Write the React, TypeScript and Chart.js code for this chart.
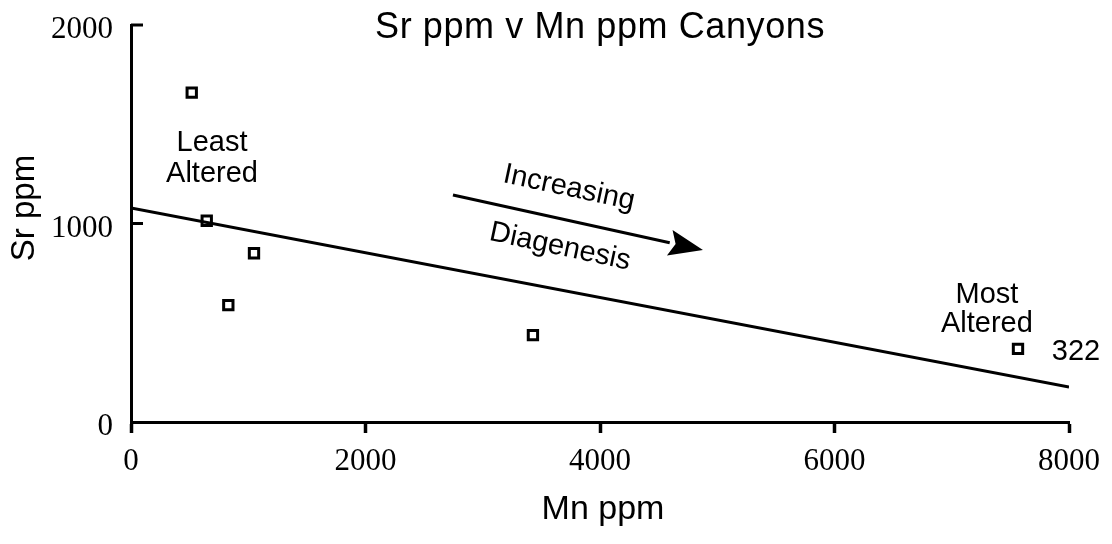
import React, { useEffect, useRef } from "react";
import { Chart, registerables } from "chart.js";

Chart.register(...registerables);

// Samples: Mn (ppm) against Sr (ppm)
const mnPpm = [518, 646, 1049, 830, 3428, 7565];
const srPpm = [1659, 1014, 850, 589, 438, 368];

// Least-squares trend line end points
const trendMn = [0, 8000];
const trendSr = [1078, 176];

// Axis ticks
const xTickValues = [0, 2000, 4000, 6000, 8000];
const yTickValues = [0, 1000, 2000];

// Direction arrow (in data units)
const arrowMn = [2746, 4878];
const arrowSr = [1144, 866];

const SANS = '"Liberation Sans", Arial, Helvetica, sans-serif';
const SERIF = '"Liberation Serif", "Times New Roman", serif';

type Note = { text: string; mn: number; sr: number; angle?: number; align?: CanvasTextAlign };

const notes: Note[] = [
  { text: "Least", mn: 691, sr: 1406 },
  { text: "Altered", mn: 691, sr: 1249 },
  { text: "Most", mn: 7300, sr: 640 },
  { text: "Altered", mn: 7300, sr: 494 },
  { text: "322", mn: 8060, sr: 353 },
  { text: "Increasing", mn: 3736, sr: 1179, angle: 12 },
  { text: "Diagenesis", mn: 3659, sr: 882, angle: 12 },
];

const decorations = {
  id: "decorations",
  afterDraw(chart: any) {
    const { ctx, chartArea, scales } = chart;
    const x = scales.x;
    const y = scales.y;
    ctx.save();

    // inward tick marks on the Sr axis
    ctx.strokeStyle = "#000";
    ctx.lineWidth = 3;
    yTickValues.forEach((v) => {
      if (v === 0) return;
      const py = y.getPixelForValue(v);
      ctx.beginPath();
      ctx.moveTo(chartArea.left, py);
      ctx.lineTo(chartArea.left + 12, py);
      ctx.stroke();
    });

    // arrow showing increasing diagenesis
    const x0 = x.getPixelForValue(arrowMn[0]);
    const y0 = y.getPixelForValue(arrowSr[0]);
    const x1 = x.getPixelForValue(arrowMn[1]);
    const y1 = y.getPixelForValue(arrowSr[1]);
    const ang = Math.atan2(y1 - y0, x1 - x0);
    const headLen = 34;
    const headHalf = 13;
    const bx = x1 - headLen * Math.cos(ang);
    const by = y1 - headLen * Math.sin(ang);
    ctx.lineWidth = 3;
    ctx.beginPath();
    ctx.moveTo(x0, y0);
    ctx.lineTo(bx, by);
    ctx.stroke();
    ctx.fillStyle = "#000";
    ctx.beginPath();
    ctx.moveTo(x1, y1);
    ctx.lineTo(bx + headHalf * Math.sin(ang), by - headHalf * Math.cos(ang));
    ctx.lineTo(bx + 6 * Math.cos(ang), by + 6 * Math.sin(ang));
    ctx.lineTo(bx - headHalf * Math.sin(ang), by + headHalf * Math.cos(ang));
    ctx.closePath();
    ctx.fill();

    // text labels
    ctx.fillStyle = "#000";
    ctx.textBaseline = "middle";
    notes.forEach((n) => {
      const px = x.getPixelForValue(n.mn);
      const py = y.getPixelForValue(n.sr);
      ctx.save();
      ctx.translate(px, py);
      if (n.angle) ctx.rotate((n.angle * Math.PI) / 180);
      ctx.font = `29px ${SANS}`;
      ctx.textAlign = n.align || "center";
      ctx.fillText(n.text, 0, 0);
      ctx.restore();
    });

    // chart title
    ctx.font = `36px ${SANS}`;
    (ctx as any).letterSpacing = "0.6px";
    ctx.textAlign = "center";
    ctx.textBaseline = "alphabetic";
    ctx.fillText("Sr ppm v Mn ppm Canyons", (chartArea.left + chartArea.right) / 2, 38);
    (ctx as any).letterSpacing = "0px";

    // axis titles
    ctx.font = `34px ${SANS}`;
    ctx.fillText("Mn ppm", (chartArea.left + chartArea.right) / 2 + 3, 519);
    ctx.save();
    ctx.translate(34, 208);
    ctx.rotate(-Math.PI / 2);
    ctx.font = `33px ${SANS}`;
    ctx.fillText("Sr ppm", 0, 0);
    ctx.restore();

    ctx.restore();
  },
};

export default function App() {
  const canvasRef = useRef<HTMLCanvasElement | null>(null);

  useEffect(() => {
    const canvas = canvasRef.current;
    if (!canvas) return;
    const points = mnPpm.map((mn, i) => ({ x: mn, y: srPpm[i] }));
    const trend = trendMn.map((mn, i) => ({ x: mn, y: trendSr[i] }));

    const chart = new Chart(canvas, {
      type: "scatter",
      data: {
        datasets: [
          {
            label: "Trend",
            data: trend,
            showLine: true,
            borderColor: "#000",
            borderWidth: 3,
            pointRadius: 0,
            fill: false,
          },
          {
            label: "Samples",
            data: points,
            pointStyle: "rect",
            pointRadius: 6.6,
            borderWidth: 3,
            borderColor: "#000",
            backgroundColor: "#fff",
          },
        ],
      },
      options: {
        responsive: false,
        animation: false,
        layout: { padding: { top: 25, right: 43, left: 0, bottom: 0 } },
        plugins: {
          legend: { display: false },
          tooltip: { enabled: false },
          title: { display: false },
        },
        scales: {
          x: {
            type: "linear",
            min: 0,
            max: 8000,
            afterFit: (scale: any) => {
              scale.height = 122;
              scale.paddingLeft = 0;
              scale.paddingRight = 0;
            },
            afterBuildTicks: (scale: any) => {
              scale.ticks = xTickValues.map((v) => ({ value: v }));
            },
            border: { display: true, color: "#000", width: 3 },
            grid: {
              display: true,
              drawOnChartArea: false,
              drawTicks: true,
              tickLength: 11,
              tickWidth: 3.5,
              tickColor: "#000",
              color: "#000",
            },
            ticks: {
              color: "#000",
              padding: 10,
              maxRotation: 0,
              font: { family: SERIF, size: 31 },
              callback: (v: any) => String(v),
            },
          },
          y: {
            type: "linear",
            min: 0,
            max: 2000,
            afterFit: (scale: any) => {
              scale.width = 131;
              scale.paddingTop = 0;
              scale.paddingBottom = 0;
            },
            afterBuildTicks: (scale: any) => {
              scale.ticks = yTickValues.map((v) => ({ value: v }));
            },
            border: { display: true, color: "#000", width: 3 },
            grid: { display: false, drawTicks: false },
            ticks: {
              color: "#000",
              padding: 18,
              labelOffset: 5,
              font: { family: SERIF, size: 31 },
              callback: (v: any) => String(v),
            },
          },
        },
      },
      plugins: [decorations],
    });

    return () => chart.destroy();
  }, []);

  return (
    <div style={{ position: "absolute", left: 0, top: 0, width: 1112, height: 544, background: "#fff" }}>
      <canvas ref={canvasRef} width={1112} height={544} style={{ display: "block" }} />
    </div>
  );
}
